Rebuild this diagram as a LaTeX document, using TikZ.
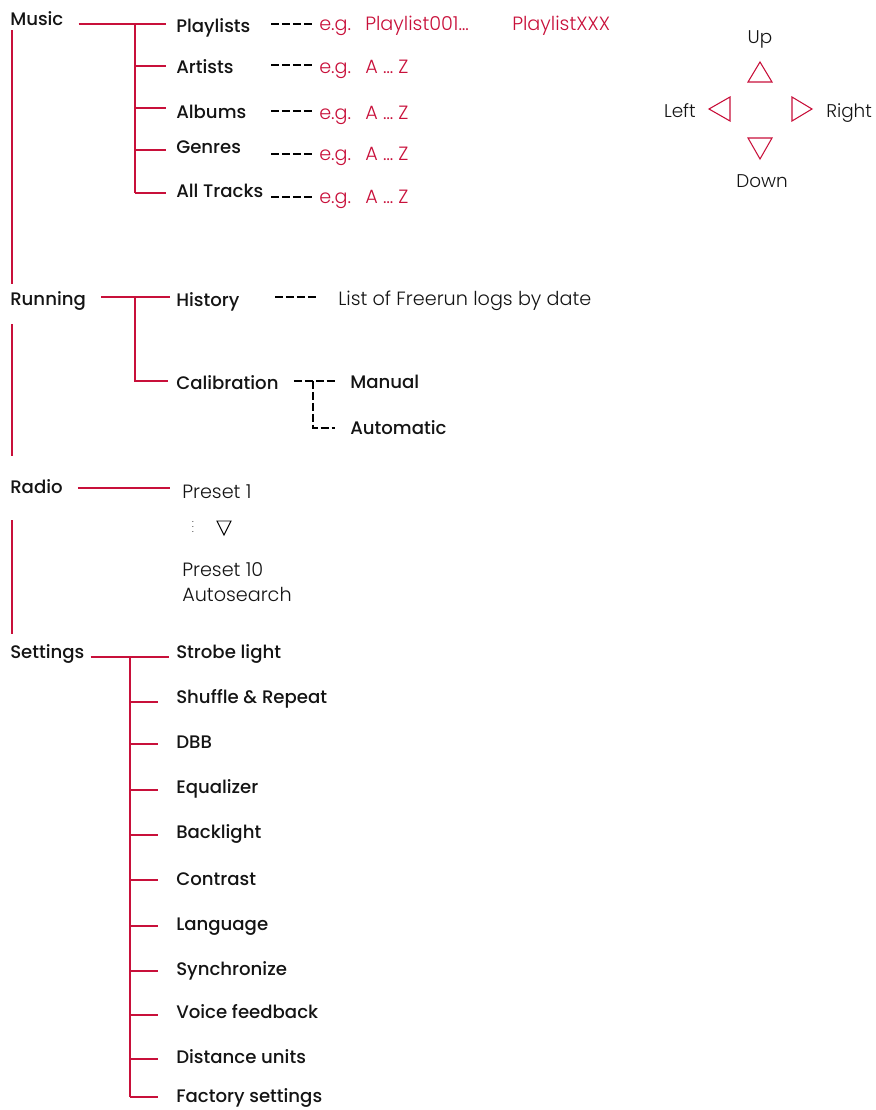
\documentclass[tikz,border=0pt]{standalone}
\usepackage{fontspec}
\setmainfont{Poppins}
\newfontfamily\lightfont{Poppins}[UprightFont=* Light]
\newfontfamily\mediumfont{Poppins}[UprightFont=* Medium]
\usetikzlibrary{positioning}
\definecolor{menured}{RGB}{200,16,58}
\definecolor{menutext}{RGB}{20,20,20}

\begin{document}
\begin{tikzpicture}[
  x=0.75pt, y=-0.75pt,
  item/.style={anchor=base west, inner sep=0pt, text=menutext,
    font=\fontsize{13.6}{15}\mediumfont},
  hint/.style={item, font=\fontsize{14.4}{16}\lightfont},
  example/.style={hint, text=menured},
  keylabel/.style={hint, font=\fontsize{13.8}{16}\lightfont},
  link/.style={menured, line width=1.5pt},
  dots/.style={black, line width=1.4pt, dash pattern=on 6pt off 2.2pt},
  arrowmark/.style={draw=menured, line width=0.8pt, line join=miter}
]
\useasboundingbox (0,0) rectangle (875,1110);

% main menu
\node[item] (music) at (10,25) {Music};
\node[item] (running) at (10,305) {Running};
\node[item] (radio) at (10,493) {Radio};
\node[item] (settings) at (10,658) {Settings};
\draw[link] ([shift={(2,5)}]music.south west) -- ([shift={(2,-7)}]running.north west);
\draw[link] ([shift={(2,14)}]running.south west) -- ([shift={(2,-23)}]radio.north west);
\draw[link] ([shift={(2,27)}]radio.south west) -- ([shift={(2,-10)}]settings.north west);

% music
\coordinate (musicfork) at (135,24);
\foreach \name/\txt/\y/\ty/\dy/\ey/\val in {
    playlists/Playlists/32/24/24/31/Playlist001…,
    artists/Artists/73/66/65/73/A … Z,
    albums/Albums/118/108/111/119/A … Z,
    genres/Genres/153/150/154/160/A … Z,
    alltracks/All Tracks/197/193/197/203/A … Z} {
  \node[item] (\name) at (176,\y) {\txt};
  \node[example] (\name-eg) at (319,\ey) {e.g.};
  \node[example] (\name-val) at (365,\ey) {\val};
  \draw[link] (musicfork |- 0,\ty) -- ([shift={(-10,0)}]\name.west |- 0,\ty);
  \draw[dots] ([shift={(-48,0)}]\name-eg.west |- 0,\dy) -- ([shift={(-6,0)}]\name-eg.west |- 0,\dy);
}
\node[example] (playlists-last) at (512,31) {PlaylistXXX};
\draw[link] ([shift={(15,0)}]music.east |- musicfork) -- (musicfork) -- (musicfork |- 0,193);

% running
\coordinate (runfork) at (135,297);
\node[item] (history) at (176,306) {History};
\node[hint] (freerun) at (338,305) {List of Freerun logs by date};
\node[item] (calibration) at (176,389) {Calibration};
\node[item] (manual) at (350,388) {Manual};
\node[item] (automatic) at (350,434) {Automatic};
\coordinate (calfork) at (313,381);
\draw[link] ([shift={(15,0)}]running.east |- runfork) -- ([shift={(-6,0)}]history.west |- runfork);
\draw[link] (runfork) |- ([shift={(-8,0)}]calibration.west |- 0,381);
\draw[dots] ([shift={(-63,0)}]freerun.west |- 0,297) -- ([shift={(-22,0)}]freerun.west |- 0,297);
\draw[dots] ([shift={(15,0)}]calibration.east |- calfork) -- (calfork) -- ([shift={(-13,0)}]manual.west |- calfork);
\draw[dots] (calfork) |- ([shift={(-15,0)}]automatic.west |- 0,428);

% radio
\node[hint] (preset1) at (182,498) {Preset 1};
\node[hint] (preset10) at (182,576) {Preset 10};
\node[hint] (autosearch) at (182,601) {Autosearch};
\node[inner sep=0pt, font=\fontsize{6}{6}\selectfont] (more) at (193,523) {$\vdots$};
\draw[line width=0.7pt] (217,521) -- (231,521) -- (224,535) -- cycle;
\draw[link] ([shift={(15,0)}]radio.east |- 0,488) -- ([shift={(-12,0)}]preset1.west |- 0,488);

% settings
\coordinate (setfork) at (130,657);
\node[item] (strobe) at (176,658) {Strobe light};
\draw[link] ([shift={(6,0)}]settings.east |- setfork) -- ([shift={(-7,0)}]strobe.west |- setfork);
\foreach \name/\txt/\y/\ty in {
    shuffle/Shuffle \& Repeat/703/702,
    dbb/DBB/748/744,
    equalizer/Equalizer/793/790,
    backlight/Backlight/838/835,
    contrast/Contrast/885/880,
    language/Language/930/926,
    synchronize/Synchronize/975/971,
    voice/Voice feedback/1018/1015,
    distance/Distance units/1063/1059,
    factory/Factory settings/1102/1097} {
  \node[item] (\name) at (176,\y) {\txt};
  \draw[link] (setfork |- 0,\ty) -- ([shift={(-18,0)}]\name.west |- 0,\ty);
}
\draw[link] (setfork) -- (setfork |- 0,1097);

% navigation keys
\node[keylabel, anchor=base] (up) at (760,43) {Up};
\node[keylabel, anchor=base] (down) at (762,187) {Down};
\node[keylabel, anchor=base east] (left) at (696,117) {Left};
\node[keylabel, anchor=base west] (right) at (826,117) {Right};
\draw[arrowmark] (748,82) -- (772,82) -- (760,62) -- cycle;
\draw[arrowmark] (748,138) -- (772,138) -- (760,159) -- cycle;
\draw[arrowmark] (730,97) -- (730,121) -- (709,109) -- cycle;
\draw[arrowmark] (792,97) -- (792,121) -- (812,109) -- cycle;
\end{tikzpicture}
\end{document}
